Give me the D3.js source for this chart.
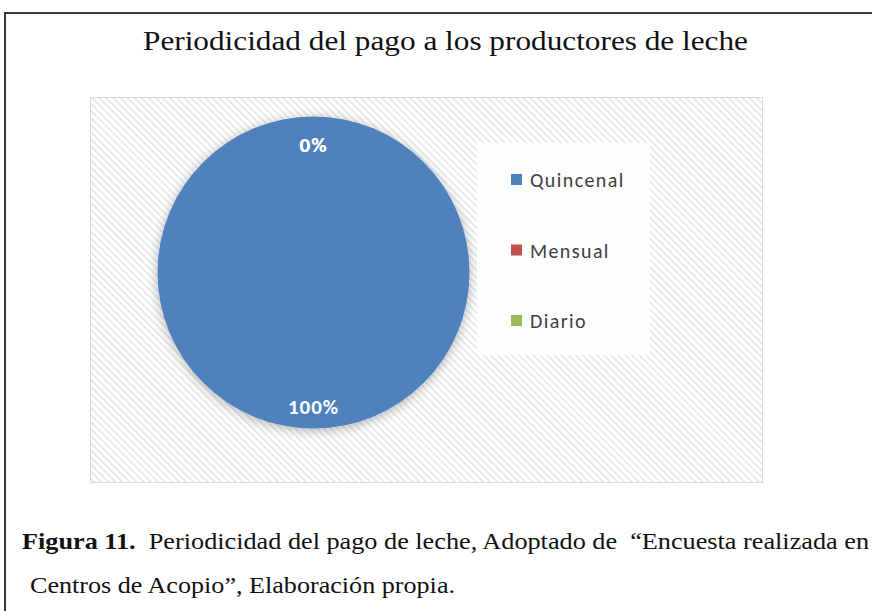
<!DOCTYPE html>
<html lang="es">
<head>
    <meta charset="UTF-8">
    <title>Periodicidad del pago</title>
    <script src="https://d3js.org/d3.v7.min.js"></script>
    <style>
        body {
            margin: 0;
            background: #ffffff;
        }
        svg {
            display: block;
        }
    </style>
</head>
<body>
    <div id="chart"></div>
    <script>
        // Datos de la encuesta
        const categories = ["Quincenal", "Mensual", "Diario"];
        const values = [100, 0, 0];
        const colors = ["#4f81bd", "#c0504d", "#9bbb59"];

        const width = 872;
        const height = 611;

        const svg = d3.select("#chart").append("svg")
            .attr("width", width)
            .attr("height", height);

        const defs = svg.append("defs");

        // Rayado diagonal del area del grafico
        const pattern = defs.append("pattern")
            .attr("id", "hatch")
            .attr("patternUnits", "userSpaceOnUse")
            .attr("width", 5)
            .attr("height", 5)
            .attr("patternTransform", "rotate(-45)");
        pattern.append("rect")
            .attr("width", 5).attr("height", 5)
            .attr("fill", "#ffffff");
        pattern.append("rect")
            .attr("width", 1.6).attr("height", 5)
            .attr("fill", "#e6e6e6");

        const shadow = defs.append("filter")
            .attr("id", "shadow")
            .attr("x", "-20%").attr("y", "-20%")
            .attr("width", "140%").attr("height", "140%");
        shadow.append("feGaussianBlur")
            .attr("in", "SourceAlpha")
            .attr("stdDeviation", 6)
            .attr("result", "blur");
        shadow.append("feOffset")
            .attr("in", "blur")
            .attr("dy", 2)
            .attr("result", "off");
        shadow.append("feComponentTransfer")
            .attr("in", "off")
            .attr("result", "soft")
            .append("feFuncA")
            .attr("type", "linear")
            .attr("slope", 0.3);
        const merge = shadow.append("feMerge");
        merge.append("feMergeNode").attr("in", "soft");
        merge.append("feMergeNode").attr("in", "SourceGraphic");

        // Marco exterior
        svg.append("path")
            .attr("d", `M5,${height} L5,13 L${width},13`)
            .attr("fill", "none")
            .attr("stroke", "#3a3a3a")
            .attr("stroke-width", 2);

        const serif = "'Liberation Serif', 'Times New Roman', serif";

        // Titulo
        svg.append("text")
            .attr("x", 143)
            .attr("y", 50)
            .attr("textLength", 605)
            .attr("lengthAdjust", "spacingAndGlyphs")
            .style("font-family", serif)
            .style("font-size", "28px")
            .style("fill", "#111")
            .text("Periodicidad del pago a los productores de leche");

        // Area del grafico
        svg.append("rect")
            .attr("x", 90.5)
            .attr("y", 97.5)
            .attr("width", 672)
            .attr("height", 385)
            .attr("fill", "url(#hatch)")
            .attr("stroke", "#d9d9d9")
            .attr("stroke-width", 1);

        const cx = 313.5, cy = 272.5, radius = 156;

        const pie = d3.pie().sort(null).value(d => d);
        const arcs = pie(values);
        const arc = d3.arc().innerRadius(0).outerRadius(radius);
        const labelArc = d3.arc().innerRadius(radius * 0.86).outerRadius(radius * 0.86);

        const g = svg.append("g")
            .attr("transform", `translate(${cx},${cy})`);

        g.append("g")
            .attr("filter", "url(#shadow)")
            .selectAll("path")
            .data(arcs)
            .enter().append("path")
            .attr("d", arc)
            .attr("fill", (d, i) => colors[i]);

        g.selectAll(".lbl")
            .data(arcs)
            .enter().append("text")
            .attr("class", "lbl")
            .attr("transform", d => {
                const empty = d.endAngle - d.startAngle === 0;
                const a = d.startAngle;
                const p = empty
                    ? [Math.sin(a) * radius * 0.82, -Math.cos(a) * radius * 0.82]
                    : labelArc.centroid(d);
                return `translate(${p[0]},${p[1]})`;
            })
            .attr("text-anchor", "middle")
            .attr("dy", "0.35em")
            .style("font-family", "Carlito, Calibri, 'Open Sans', sans-serif")
            .style("font-weight", "bold")
            .style("font-size", "21px")
            .style("letter-spacing", "1px")
            .style("fill", "#ffffff")
            .text(d => d.data + "%");

        // Leyenda
        svg.append("rect")
            .attr("x", 477)
            .attr("y", 143)
            .attr("width", 173)
            .attr("height", 212)
            .attr("fill", "#ffffff")
            .attr("opacity", 0.85);

        const legendY = d3.scalePoint()
            .domain(categories)
            .range([179, 320]);

        const legend = svg.selectAll(".legend")
            .data(categories)
            .enter().append("g")
            .attr("class", "legend")
            .attr("transform", d => `translate(511,${legendY(d)})`);

        legend.append("rect")
            .attr("x", 0)
            .attr("y", -5)
            .attr("width", 11)
            .attr("height", 11)
            .attr("fill", (d, i) => colors[i]);

        legend.append("text")
            .attr("x", 19)
            .attr("y", 1)
            .attr("dy", "0.35em")
            .style("font-family", "Carlito, Calibri, 'Open Sans', sans-serif")
            .style("font-size", "20px")
            .style("letter-spacing", "1.4px")
            .style("fill", "#404040")
            .text(d => d);

        // Pie de figura
        const caption = svg.append("text")
            .attr("x", 22)
            .attr("y", 549)
            .attr("textLength", 847)
            .attr("lengthAdjust", "spacingAndGlyphs")
            .style("font-family", serif)
            .style("font-size", "23px")
            .style("fill", "#111");
        caption.append("tspan")
            .style("font-weight", "bold")
            .text("Figura 11.");
        caption.append("tspan")
            .attr("xml:space", "preserve")
            .text("  Periodicidad del pago de leche, Adoptado de  \u201cEncuesta realizada en");

        svg.append("text")
            .attr("x", 30)
            .attr("y", 593)
            .attr("textLength", 425)
            .attr("lengthAdjust", "spacingAndGlyphs")
            .style("font-family", serif)
            .style("font-size", "23px")
            .style("fill", "#111")
            .text("Centros de Acopio\u201d, Elaboraci\u00f3n propia.");
    </script>
</body>
</html>
